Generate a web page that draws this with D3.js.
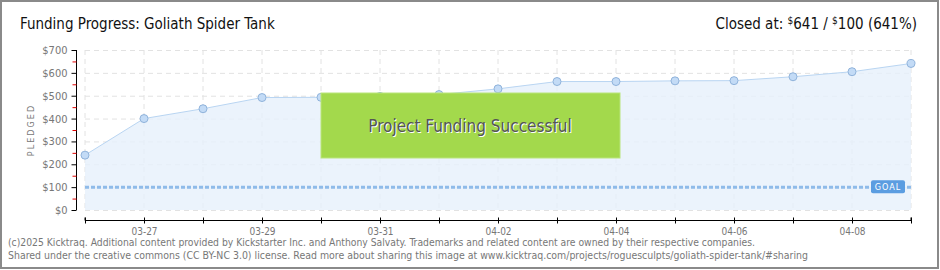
<!DOCTYPE html>
<html>
<head>
  <meta charset="utf-8">
  <script src="https://unpkg.com/d3@7/dist/d3.min.js"></script>
  <style>
    body { margin: 0; background: #fff; }
    text { font-family: "DejaVu Sans Condensed", "DejaVu Sans", sans-serif; }
  </style>
</head>
<body>
<div id="chart"></div>
<script>
  var width = 940, height = 270;

  // data
  var days = ["03-26", "03-27", "03-28", "03-29", "03-30", "03-31", "04-01", "04-02",
              "04-03", "04-04", "04-05", "04-06", "04-07", "04-08", "04-09"];
  var pledged = [240, 400, 443, 492, 493, 497, 505, 530, 562, 562, 565, 566, 583, 605, 641];
  var dayLabels = ["03-27", "03-29", "03-31", "04-02", "04-04", "04-06", "04-08"];
  var yTicks = [0, 100, 200, 300, 400, 500, 600, 700];
  var goal = 100;

  var svg = d3.select("#chart").append("svg")
    .attr("width", width).attr("height", height);

  // frame
  svg.append("rect")
    .attr("x", 1).attr("y", 1).attr("width", width - 3).attr("height", height - 3)
    .attr("fill", "#fff").attr("stroke", "#8a8a8a").attr("stroke-width", 2);

  var x = d3.scalePoint().domain(days).range([85, 911]);
  var y = d3.scaleLinear().domain([0, 700]).range([210, 50]);

  // grid
  svg.append("g").selectAll("line").data(days).enter().append("line")
    .attr("x1", d => x(d)).attr("x2", d => x(d))
    .attr("y1", 50).attr("y2", 210)
    .attr("stroke", "#e2e2e2").attr("stroke-dasharray", "5 4");
  svg.append("g").selectAll("line").data(yTicks).enter().append("line")
    .attr("x1", 85).attr("x2", 911)
    .attr("y1", d => y(d) + 0.5).attr("y2", d => y(d) + 0.5)
    .attr("stroke", "#e2e2e2").attr("stroke-dasharray", "5 4");

  // area + line
  var area = d3.area()
    .x((d, i) => x(days[i])).y0(y(0)).y1(d => y(d));
  svg.append("path").datum(pledged)
    .attr("d", area).attr("fill", "#e6f0fb").attr("fill-opacity", 0.8);
  var line = d3.line().x((d, i) => x(days[i])).y(d => y(d));
  svg.append("path").datum(pledged)
    .attr("d", line).attr("fill", "none").attr("stroke", "#b9d5f2").attr("stroke-width", 1);

  // goal line
  svg.append("line")
    .attr("x1", 85).attr("x2", 911)
    .attr("y1", y(goal)).attr("y2", y(goal))
    .attr("stroke", "#8fbbe9").attr("stroke-width", 3).attr("stroke-dasharray", "4 2");
  var goalG = svg.append("g").attr("transform", "translate(871," + (y(goal) - 7) + ")");
  goalG.append("rect").attr("width", 34).attr("height", 13).attr("rx", 2)
    .attr("fill", "#5b9de1");
  goalG.append("text").attr("x", 17).attr("y", 10).attr("text-anchor", "middle")
    .attr("fill", "#fff").attr("font-size", 9).attr("letter-spacing", 1).text("GOAL");

  // points
  svg.append("g").selectAll("circle").data(pledged).enter().append("circle")
    .attr("cx", (d, i) => x(days[i])).attr("cy", d => y(d)).attr("r", 4)
    .attr("fill", "#c3dbf6").attr("stroke", "#90b3db").attr("stroke-width", 1);

  // y axis
  var yAxis = d3.axisLeft(y).tickValues(yTicks).tickSize(5).tickPadding(4)
    .tickFormat(d => "$" + d);
  var yg = svg.append("g").attr("transform", "translate(76.5,0)").call(yAxis);
  yg.select(".domain").attr("stroke", "#000").attr("d", "M0," + y(700) + "V" + y(0));
  yg.selectAll(".tick line").attr("stroke", "#000").attr("x1", 0).attr("x2", -5);
  yg.selectAll(".tick text").attr("fill", "#777").attr("font-size", 11);
  yg.selectAll(".minor").data(yTicks.slice(0, -1)).enter().append("line")
    .attr("class", "minor")
    .attr("x1", -4).attr("x2", 0)
    .attr("y1", d => y(d + 50) + 0.5).attr("y2", d => y(d + 50) + 0.5)
    .attr("stroke", "#e00000");

  svg.append("text")
    .attr("transform", "translate(34,130) rotate(-90)")
    .attr("text-anchor", "middle").attr("fill", "#777")
    .attr("font-size", 9).attr("letter-spacing", 2).text("PLEDGED");

  // x axis
  var xAxis = d3.axisBottom(x).tickSize(5).tickPadding(4)
    .tickFormat(d => dayLabels.indexOf(d) >= 0 ? d : "");
  var xg = svg.append("g").attr("transform", "translate(0,220.5)").call(xAxis);
  xg.select(".domain").attr("stroke", "#000").attr("d", "M85,-3V0H911V-3");
  xg.selectAll(".tick line").attr("stroke", "#000").attr("y1", -3).attr("y2", 3);
  xg.selectAll(".tick text").attr("fill", "#777").attr("font-size", 10).attr("dy", "0.5em");

  // success banner
  svg.append("rect")
    .attr("x", x("03-30")).attr("y", 93)
    .attr("width", x("04-04") + 4 - x("03-30")).attr("height", 65)
    .attr("fill", "#a3d94c").attr("stroke", "#b9e57a").attr("stroke-width", 1);
  svg.append("text").attr("x", 471).attr("y", 133).attr("text-anchor", "middle")
    .attr("font-size", 17).attr("fill", "#fff").text("Project Funding Successful");
  svg.append("text").attr("x", 470).attr("y", 132).attr("text-anchor", "middle")
    .attr("font-size", 17).attr("fill", "#555").text("Project Funding Successful");

  // titles
  svg.append("text").attr("x", 20).attr("y", 29)
    .attr("font-size", 15).attr("fill", "#111").text("Funding Progress: Goliath Spider Tank");
  var closedAt = svg.append("text").attr("x", 917).attr("y", 29)
    .attr("text-anchor", "end").attr("font-size", 15).attr("fill", "#111");
  closedAt.append("tspan").text("Closed at:  ");
  closedAt.append("tspan").attr("font-size", 10).attr("dy", -5).text("$");
  closedAt.append("tspan").attr("dy", 5).text("641 /  ");
  closedAt.append("tspan").attr("font-size", 10).attr("dy", -5).text("$");
  closedAt.append("tspan").attr("dy", 5).text("100 (641%)");

  // footer
  svg.append("text").attr("x", 8).attr("y", 246).attr("font-size", 10).attr("fill", "#777")
    .attr("textLength", 747).attr("lengthAdjust", "spacingAndGlyphs")
    .text("(c)2025 Kicktraq. Additional content provided by Kickstarter Inc. and Anthony Salvaty. Trademarks and related content are owned by their respective companies.");
  svg.append("text").attr("x", 8).attr("y", 259).attr("font-size", 10).attr("fill", "#777")
    .attr("textLength", 800).attr("lengthAdjust", "spacingAndGlyphs")
    .text("Shared under the creative commons (CC BY-NC 3.0) license. Read more about sharing this image at www.kicktraq.com/projects/roguesculpts/goliath-spider-tank/#sharing");
</script>
</body>
</html>
